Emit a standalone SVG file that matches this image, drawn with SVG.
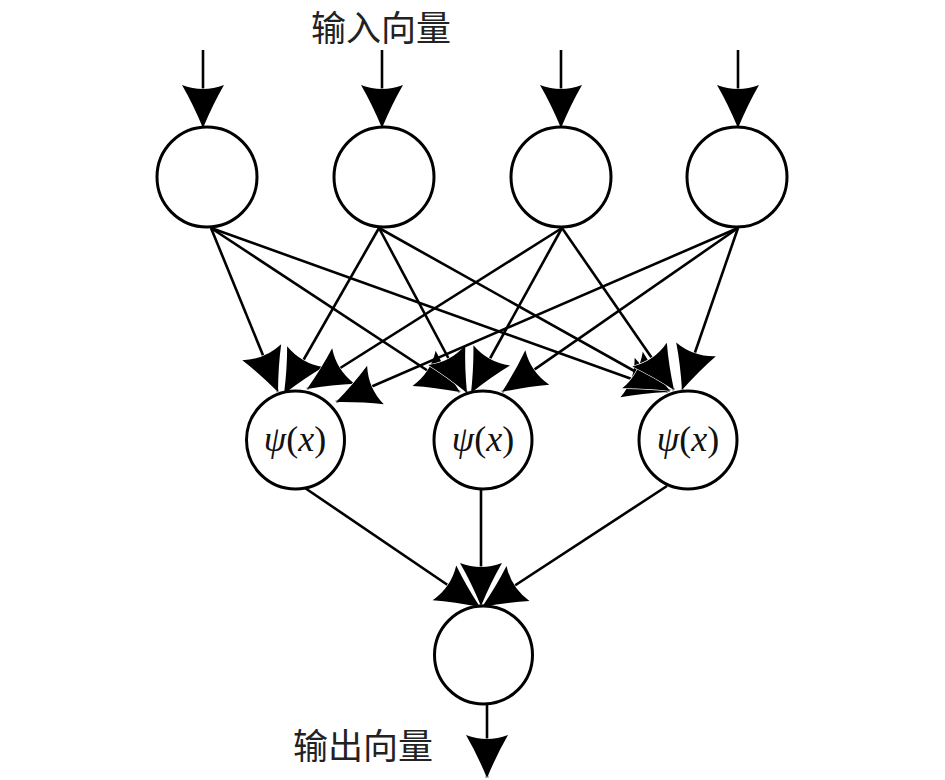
<svg xmlns="http://www.w3.org/2000/svg" width="945" height="780" viewBox="0 0 945 780">
<style>
.node{fill:#fff;stroke:#000;stroke-width:3}
.edge{stroke:#000;stroke-width:2.6;fill:none;marker-end:url(#ah)}
.cjk{font-family:"Noto Sans CJK SC","Noto Sans CJK JP",sans-serif;font-size:35px;fill:#222}
.psi{font-family:"Liberation Serif",serif;font-size:36px;fill:#111;text-anchor:middle}
</style>
<defs>
<marker id="ah" markerUnits="userSpaceOnUse" orient="auto" refX="0" refY="0" markerWidth="50" markerHeight="50" overflow="visible">
<path d="M0,0 Q-24,-10 -43,-21 Q-35,0 -43,21 Q-24,10 0,0Z" fill="#000" stroke="#fff" stroke-width="1.2" paint-order="stroke"/>
</marker>
</defs>
<rect width="945" height="780" fill="#fff"/>
<g id="connectors">
<line class="edge" x1="203" y1="50" x2="203" y2="128"/>
<line class="edge" x1="382" y1="50" x2="382" y2="128"/>
<line class="edge" x1="561" y1="50" x2="561" y2="128"/>
<line class="edge" x1="738" y1="50" x2="738" y2="128"/>
<line class="edge" x1="211" y1="228" x2="668" y2="392"/>
<line class="edge" x1="211" y1="228" x2="460" y2="392"/>
<line class="edge" x1="211" y1="228" x2="278" y2="392"/>
<line class="edge" x1="379" y1="228" x2="670" y2="391"/>
<line class="edge" x1="379" y1="228" x2="467" y2="393"/>
<line class="edge" x1="379" y1="228" x2="284" y2="394"/>
<line class="edge" x1="562" y1="228" x2="307" y2="389"/>
<line class="edge" x1="562" y1="228" x2="471" y2="393"/>
<line class="edge" x1="562" y1="228" x2="674" y2="390"/>
<line class="edge" x1="738" y1="228" x2="336" y2="402"/>
<line class="edge" x1="738" y1="228" x2="502" y2="392"/>
<line class="edge" x1="738" y1="228" x2="682" y2="390"/>
<line class="edge" x1="305" y1="488" x2="480" y2="607"/>
<line class="edge" x1="667" y1="486" x2="482" y2="607"/>
<line class="edge" x1="481" y1="490" x2="481" y2="606"/>
<line class="edge" x1="487" y1="704" x2="487" y2="778"/>
</g>
<g id="in1"><circle class="node" cx="207" cy="177" r="50"/></g>
<g id="in2"><circle class="node" cx="384" cy="177" r="50"/></g>
<g id="in3"><circle class="node" cx="561" cy="177" r="50"/></g>
<g id="in4"><circle class="node" cx="737" cy="177" r="50"/></g>
<g id="h1"><circle class="node" cx="295.5" cy="440" r="49"/><text class="psi" x="295" y="451"><tspan font-style="italic">ψ</tspan>(<tspan font-style="italic">x</tspan>)</text></g>
<g id="h2"><circle class="node" cx="483" cy="440" r="49"/><text class="psi" x="483" y="451"><tspan font-style="italic">ψ</tspan>(<tspan font-style="italic">x</tspan>)</text></g>
<g id="h3"><circle class="node" cx="688" cy="440" r="49"/><text class="psi" x="688" y="451"><tspan font-style="italic">ψ</tspan>(<tspan font-style="italic">x</tspan>)</text></g>
<g id="out"><circle class="node" cx="483.5" cy="655" r="49"/></g>
<g id="labels">
<text class="cjk" x="381" y="41" text-anchor="middle">输入向量</text>
<text class="cjk" x="363" y="759" text-anchor="middle">输出向量</text>
</g>
</svg>
